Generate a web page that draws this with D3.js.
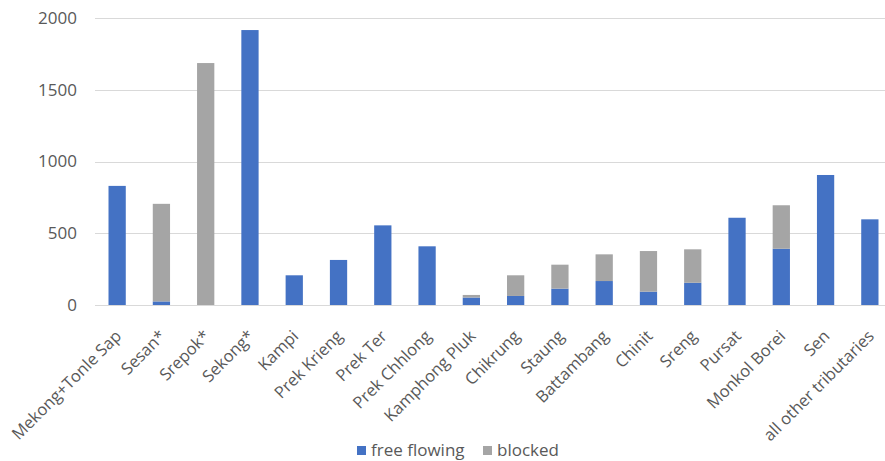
<!DOCTYPE html>
<html>
<head>
<meta charset="utf-8">
<script src="https://cdn.jsdelivr.net/npm/d3@7"></script>
<style>
  body { margin: 0; background: #fff; }
  text { font-family: "Open Sans", "Liberation Sans", sans-serif; }
</style>
</head>
<body>
<div id="chart"></div>
<script>
// river names along the x axis
var rivers = ["Mekong+Tonle Sap", "Sesan*", "Srepok*", "Sekong*", "Kampi", "Prek Krieng",
    "Prek Ter", "Prek Chhlong", "Kamphong Pluk", "Chikrung", "Staung", "Battambang",
    "Chinit", "Sreng", "Pursat", "Monkol Borei", "Sen", "all other tributaries"];
var freeFlowing = [830, 25, 0, 1916, 207, 314, 555, 409, 52, 63, 114, 167, 93, 155, 608, 392, 906, 597];
var blocked = [0, 680, 1686, 0, 0, 0, 0, 0, 18, 144, 167, 186, 283, 233, 0, 303, 0, 0];
var yTicks = [0, 500, 1000, 1500, 2000];
var seriesNames = ["free flowing", "blocked"];
var colors = ["#4472c4", "#a5a5a5"];

function init() {
    var w = 885;
    var h = 461;

    var svg = d3.select("#chart")
        .append("svg")
        .attr("width", w)
        .attr("height", h);

    var x = d3.scaleBand()
        .domain(rivers)
        .range([95, 892])
        .paddingInner(0.61)
        .paddingOuter(0.305);

    var y = d3.scaleLinear()
        .domain([0, 2000])
        .range([305, 18]);

    // gridlines
    svg.append("g")
        .selectAll("line")
        .data(yTicks)
        .enter()
        .append("line")
        .attr("x1", 95)
        .attr("x2", w)
        .attr("y1", function(d) { return Math.round(y(d)) + 0.5; })
        .attr("y2", function(d) { return Math.round(y(d)) + 0.5; })
        .attr("stroke", "#d9d9d9")
        .attr("stroke-width", 1);

    // y axis labels
    var yAxis = d3.axisLeft(y).tickValues(yTicks).tickFormat(d3.format("d")).tickSize(0).tickPadding(0);
    var gy = svg.append("g")
        .attr("transform", "translate(77,0)")
        .call(yAxis);
    gy.select(".domain").remove();
    gy.selectAll("text")
        .attr("fill", "#595959")
        .style("font-size", "17px")
        .style("font-family", "'Open Sans', sans-serif");

    // stacked data
    var rows = rivers.map(function(r, i) {
        return { river: r, "free flowing": freeFlowing[i], blocked: blocked[i] };
    });
    var stack = d3.stack().keys(seriesNames)(rows);

    svg.append("g")
        .selectAll("g")
        .data(stack)
        .enter()
        .append("g")
        .attr("fill", function(d, i) { return colors[i]; })
        .selectAll("rect")
        .data(function(d) { return d; })
        .enter()
        .append("rect")
        .attr("x", function(d) { return x(d.data.river); })
        .attr("y", function(d) { return y(d[1]); })
        .attr("width", x.bandwidth())
        .attr("height", function(d) { return y(d[0]) - y(d[1]); });

    // x axis labels, rotated
    var xAxis = d3.axisBottom(x).tickSize(0).tickPadding(0);
    var gx = svg.append("g")
        .attr("transform", "translate(0,305)")
        .call(xAxis);
    gx.select(".domain").remove();
    gx.selectAll("text")
        .attr("fill", "#595959")
        .style("font-size", "16.5px")
        .style("font-family", "'Open Sans', sans-serif")
        .attr("text-anchor", "end")
        .attr("transform", "translate(-3,24) rotate(-45)")
        .attr("dy", "0.7em")
        .attr("y", 0);

    // legend
    var legend = svg.append("g")
        .attr("transform", "translate(357,450)");
    var lx = [0, 126];
    seriesNames.forEach(function(name, i) {
        legend.append("rect")
            .attr("x", lx[i])
            .attr("y", -4)
            .attr("width", 9)
            .attr("height", 9)
            .attr("fill", colors[i]);
        legend.append("text")
            .attr("x", lx[i] + 14)
            .attr("y", 0)
            .attr("dy", "0.35em")
            .attr("fill", "#595959")
            .style("font-size", "17px")
            .text(name);
    });
}
window.onload = init;
</script>
</body>
</html>
